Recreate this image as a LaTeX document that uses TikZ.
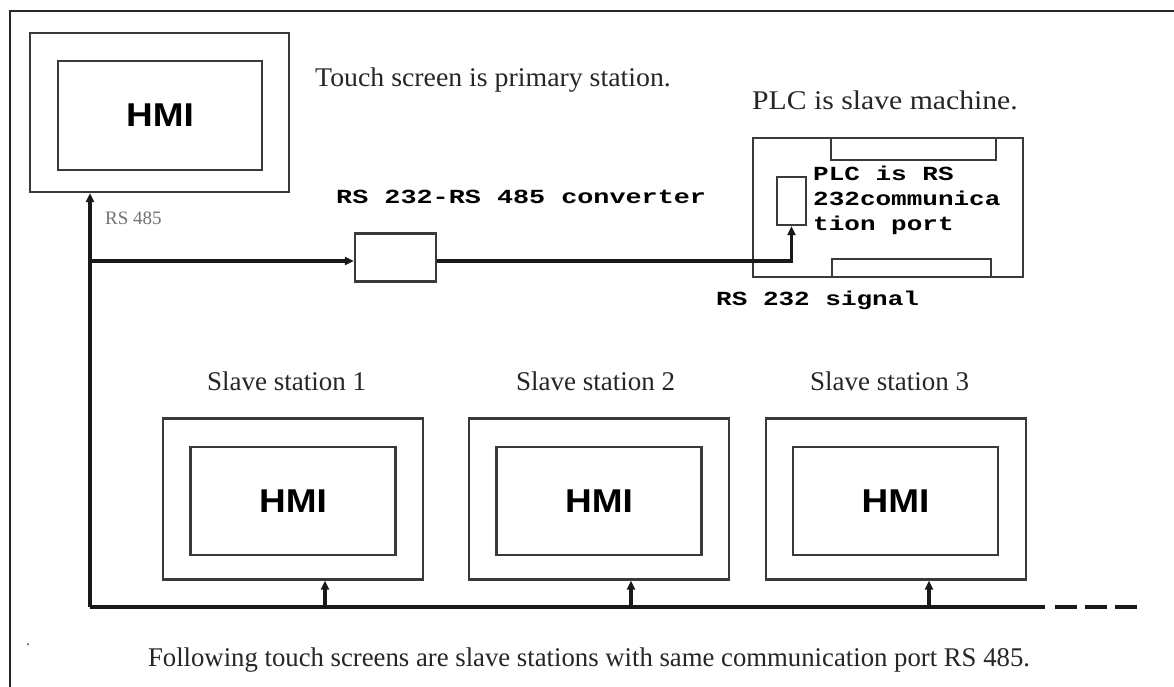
\documentclass[tikz,border=0pt]{standalone}
\usepackage{fontspec}
\usepackage{graphicx}
\setmainfont{Liberation Serif}
\newfontfamily\hmifont{Liberation Sans}
\newfontfamily\monofont{Liberation Mono}
\usetikzlibrary{arrows.meta}
\definecolor{linegray}{HTML}{3A3A3A}
\begin{document}
\begin{tikzpicture}[x=1pt,y=-1pt,
  box/.style={draw=linegray,line width=2.4pt,inner sep=0pt,anchor=center},
  hmitext/.style={font=\hmifont\bfseries\fontsize{33}{35}\selectfont},
  serif/.style={font=\fontsize{27}{29}\selectfont,text=black!85,inner sep=0pt},
  mono/.style={font=\monofont\bfseries\fontsize{20}{25}\selectfont,inner sep=0pt},
  conn/.style={line width=3.2pt,draw=black!90},
  arr/.style={conn,-{Triangle[length=9pt,width=8pt]}},
  frame/.style={line width=2pt,draw=black!85}]
\useasboundingbox (0,0) rectangle (1174,687);
\fill[white] (0,0) rectangle (1174,687);
% frame
\coordinate (fTR) at (1174,11);
\coordinate (fTL) at (10,11);
\coordinate (fBL) at (10,687);
\draw[frame] (fTR) -- (fTL) -- (fBL);

% primary HMI
\node[box,minimum width=259pt,minimum height=159pt] (hmi0) at (159.5,112.5) {};
\node[box,minimum width=204pt,minimum height=109pt] (hmi0i) at (160,115.5) {};
\node[hmitext] (hmi0t) at (hmi0i.center) {\scalebox{1.12}[1]{HMI}};

% texts top
\node[serif,anchor=west] (tprim) at (315,80) {\scalebox{1.03}[1]{Touch screen is primary station.}};
\node[serif,anchor=west] (tplc) at (752,100) {\scalebox{1.1}[1]{PLC is slave machine.}};
\node[anchor=west,inner sep=0pt,font=\fontsize{19}{21}\selectfont,text=black!55] (t485) at (105,218) {RS 485};
\node[mono,anchor=west] (tconv) at (336,197) {\scalebox{1.34}[1]{RS 232-RS 485 converter}};
\node[mono,anchor=west] (tsig) at (716,300) {\scalebox{1.3}[1]{RS 232 signal}};

% converter
\node[box,minimum width=81pt,minimum height=48pt] (conv) at (395.5,257.5) {};

% PLC
\node[box,minimum width=270pt,minimum height=139pt] (plc) at (888,207.5) {};
\node[box,minimum width=165pt,minimum height=22pt] (plctop) at (913.5,149) {};
\node[box,minimum width=159pt,minimum height=18pt] (plcbot) at (911.5,268) {};
\node[box,minimum width=29pt,minimum height=48pt] (port) at (791.5,201) {};
\node[mono,anchor=north west,align=left] (tport) at (813,166) {\scalebox{1.3}[1]{PLC is RS}\\\scalebox{1.3}[1]{232communica}\\\scalebox{1.3}[1]{tion port}};

% slave stations
\foreach \n/\cx/\ix/\lx in {1/293/293/286.5, 2/599/599/595.5, 3/896/895.5/889.5}{
  \node[box,minimum width=260pt,minimum height=161pt] (s\n) at (\cx,499) {};
  \node[box,minimum width=205pt,minimum height=108pt] (s\n i) at (\ix,501) {};
  \node[hmitext] (s\n t) at (s\n i.center) {\scalebox{1.12}[1]{HMI}};
  \node[serif] (s\n l) at (\lx,381) {Slave station \n};
}

% connectors
\coordinate (busL) at (90,607);
\coordinate (busR) at (1045,607);
\coordinate (dashS) at (1055,607);
\coordinate (dashE) at (1138,607);
\coordinate (j) at (90,261);
\draw[arr] (busL) -- (busL |- hmi0.south);
\draw[arr] (j) -- ([yshift=-3.5pt]conv.west);
\draw[arr] ([yshift=-3.5pt]conv.east) -| (port.south);
\draw[conn] (busL) -- (busR);
\draw[conn,dash pattern=on 22pt off 8pt] (dashS) -- (dashE);
\foreach \n/\dx in {1/32,2/32,3/33}{
  \draw[arr] ([xshift=\dx pt]s\n.south |- busL) -- ([xshift=\dx pt]s\n.south);
}

% caption
\node[serif] (cap) at (589,660) {\scalebox{0.99}[1]{Following touch screens are slave stations with same communication port RS 485.}};
\node[inner sep=0pt,font=\fontsize{18}{18}\selectfont,text=black!60] (dot) at (28,645) {.};
\end{tikzpicture}
\end{document}
